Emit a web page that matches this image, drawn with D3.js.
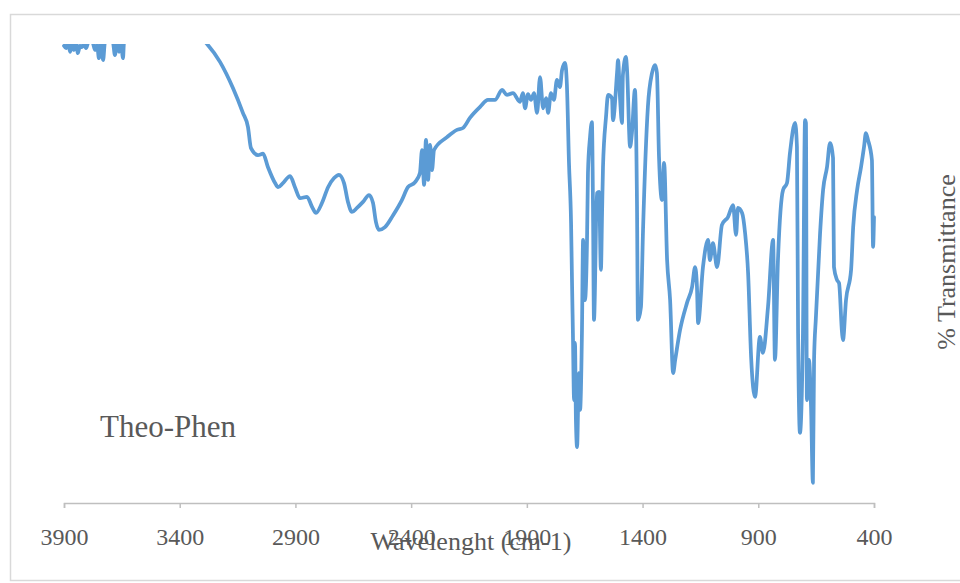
<!DOCTYPE html>
<html>
<head>
<meta charset="utf-8">
<script src="https://cdn.jsdelivr.net/npm/d3@7/dist/d3.min.js"></script>
<style>
    body { margin: 0; background: #fff; }
    svg { display: block; }
</style>
</head>
<body>
<script>
// IR spectrum, Theo-Phen
var wavenumber = [
    3900, 3891, 3883, 3874, 3865, 3857, 3848, 3840, 3831, 3822, 3814, 3805, 3796, 3788, 3775, 3766,
    3757, 3749, 3740, 3731, 3723, 3701, 3688, 3680, 3671, 3662, 3654, 3645, 3641, 3632, 3572, 3442,
    3334, 3282, 3226, 3170, 3127, 3105, 3092, 3062, 3040, 3019, 2988, 2975, 2954, 2923, 2902, 2880,
    2850, 2828, 2811, 2785, 2759, 2733, 2712, 2690, 2673, 2656, 2634, 2608, 2582, 2565, 2552, 2539,
    2513, 2478, 2440, 2414, 2383, 2362, 2353, 2344, 2336, 2327, 2318, 2310, 2301, 2245, 2202, 2176,
    2146, 2102, 2068, 2038, 2007, 1986, 1960, 1930, 1917, 1908, 1895, 1882, 1869, 1856, 1843, 1830,
    1817, 1808, 1796, 1783, 1770, 1757, 1748, 1735, 1727, 1718, 1709, 1705, 1701, 1696, 1692, 1688,
    1683, 1675, 1670, 1662, 1657, 1649, 1640, 1636, 1627, 1619, 1614, 1610, 1597, 1588, 1580, 1575,
    1571, 1558, 1549, 1532, 1528, 1510, 1506, 1497, 1489, 1485, 1472, 1467, 1454, 1446, 1433, 1424,
    1420, 1407, 1398, 1377, 1359, 1346, 1338, 1329, 1316, 1307, 1294, 1281, 1268, 1259, 1238, 1208,
    1186, 1173, 1165, 1160, 1139, 1117, 1109, 1096, 1078, 1057, 1031, 1009, 996, 988, 970, 957,
    944, 931, 914, 893, 880, 858, 836, 828, 815, 793, 776, 763, 741, 733, 728, 720,
    707, 698, 694, 690, 681, 672, 664, 659, 651, 633, 620, 603, 590, 577, 573, 560,
    551, 538, 534, 521, 499, 490, 473, 456, 443, 435, 426, 409, 404, 400
];
var transmittance = [
    99.6, 99.1, 100.6, 98.3, 99.8, 98.7, 100.5, 98.0, 99.6, 99.3, 100.2, 99.1, 100.3, 100.9, 100.2, 98.7,
    99.8, 96.9, 100.2, 96.5, 100.4, 100.9, 100.2, 97.6, 100.2, 98.3, 100.2, 96.9, 100.2, 101.3, 103.0, 104.1,
    102.4, 100.0, 96.1, 90.4, 85.0, 81.9, 77.3, 75.8, 76.1, 73.2, 69.7, 68.8, 69.7, 71.2, 68.8, 66.4,
    66.7, 64.5, 63.2, 65.4, 68.8, 70.8, 71.5, 69.7, 65.6, 63.4, 64.3, 65.6, 67.1, 65.4, 61.2, 59.5,
    60.1, 62.7, 66.0, 68.8, 69.9, 71.9, 76.9, 69.3, 79.1, 70.4, 78.0, 72.5, 76.9, 79.7, 81.3, 81.7,
    83.9, 86.3, 87.8, 87.8, 90.0, 88.9, 89.3, 87.4, 89.3, 86.0, 89.1, 87.8, 89.3, 85.0, 92.8, 86.0,
    88.2, 85.0, 89.3, 87.8, 92.2, 90.6, 94.3, 95.9, 91.1, 74.1, 61.0, 48.6, 37.0, 22.4, 34.9, 18.1,
    12.2, 28.3, 20.3, 37.0, 57.3, 44.2, 57.3, 71.9, 79.7, 83.0, 63.2, 39.9, 67.5, 67.8, 50.8, 63.2,
    73.2, 84.1, 88.9, 88.2, 83.4, 93.9, 96.5, 87.8, 82.8, 93.2, 97.2, 94.3, 77.6, 80.6, 90.0, 64.5,
    39.9, 42.7, 59.5, 86.3, 93.7, 95.4, 93.7, 75.4, 66.0, 74.1, 52.9, 44.2, 28.3, 31.2, 37.7, 43.6,
    47.1, 51.4, 47.1, 39.2, 51.4, 57.3, 52.9, 56.6, 51.4, 60.6, 62.3, 64.9, 58.4, 64.3, 63.2, 58.8,
    50.1, 31.8, 23.1, 36.2, 32.7, 42.7, 57.3, 31.2, 52.9, 68.2, 69.7, 76.3, 82.8, 77.6, 37.0, 15.3,
    37.0, 83.4, 82.8, 22.4, 31.2, 20.9, 4.4, 31.2, 40.5, 58.8, 68.2, 73.2, 78.4, 75.2, 51.4, 48.6,
    47.9, 37.0, 35.5, 44.2, 50.8, 60.1, 68.2, 73.2, 77.6, 80.6, 79.1, 74.7, 55.8, 62.3
];
var xTicks = [3900, 3400, 2900, 2400, 1900, 1400, 900, 400];
var sampleName = "Theo-Phen";
var xTitle = "Wavelenght (cm-1)";
var yTitle = "% Transmittance";

var outerWidth = 960,
    outerHeight = 583,
    margin = {top: 44, left: 64},
    width = 810,
    height = 459;

var data = wavenumber.map(function(w, i) { return {w: w, t: transmittance[i]}; });

var svg = d3.select("body")
    .append("svg")
    .attr("width", outerWidth)
    .attr("height", outerHeight);

// chart frame
svg.append("rect")
    .attr("x", 10.5)
    .attr("y", 14.5)
    .attr("width", 1000)
    .attr("height", 566)
    .style("fill", "none")
    .style("stroke", "#d9d9d9")
    .style("stroke-width", 1.5);

var x = d3.scaleLinear()
    .domain([3900, 400])
    .range([0, width]);

var y = d3.scaleLinear()
    .domain([0, 100])
    .range([height, 0]);

var g = svg.append("g")
    .attr("transform", "translate(" + margin.left + "," + margin.top + ")");

g.append("clipPath")
    .attr("id", "plot-clip")
    .append("rect")
    .attr("x", -5)
    .attr("y", 0)
    .attr("width", width + 10)
    .attr("height", height + 5);

// x axis
var xAxis = d3.axisBottom(x)
    .tickValues(xTicks)
    .tickSize(5)
    .tickFormat(d3.format("d"));

var ax = g.append("g")
    .attr("transform", "translate(0," + height + ")")
    .call(xAxis);

ax.select(".domain").attr("stroke", "#bfbfbf").attr("stroke-width", 1.5);
ax.selectAll(".tick line").attr("stroke", "#bfbfbf").attr("stroke-width", 1.5);
ax.selectAll(".tick text")
    .attr("y", 0)
    .attr("dy", 0)
    .attr("transform", "translate(0,42)")
    .style("font-family", "'Liberation Serif', 'Times New Roman', serif")
    .style("font-size", "24px")
    .style("fill", "#595959");

// spectrum
var line = d3.line()
    .curve(d3.curveMonotoneX)
    .x(function(d) { return x(d.w); })
    .y(function(d) { return y(d.t); });

g.append("path")
    .datum(data)
    .attr("clip-path", "url(#plot-clip)")
    .attr("d", line)
    .style("fill", "none")
    .style("stroke", "#5b9bd5")
    .style("stroke-width", 3.75)
    .style("stroke-linejoin", "round")
    .style("stroke-linecap", "round");

// axis titles
svg.append("text")
    .attr("x", 471)
    .attr("y", 550)
    .style("text-anchor", "middle")
    .style("font-family", "'Liberation Serif', 'Times New Roman', serif")
    .style("font-size", "26px")
    .style("fill", "#595959")
    .text(xTitle);

svg.append("text")
    .attr("transform", "translate(955,262) rotate(-90)")
    .style("text-anchor", "middle")
    .style("font-family", "'Liberation Serif', 'Times New Roman', serif")
    .style("font-size", "26px")
    .style("fill", "#595959")
    .text(yTitle);

// sample label
svg.append("text")
    .attr("x", 100)
    .attr("y", 437)
    .style("font-family", "'Liberation Serif', 'Times New Roman', serif")
    .style("font-size", "31px")
    .style("fill", "#595959")
    .text(sampleName);
</script>
</body>
</html>
